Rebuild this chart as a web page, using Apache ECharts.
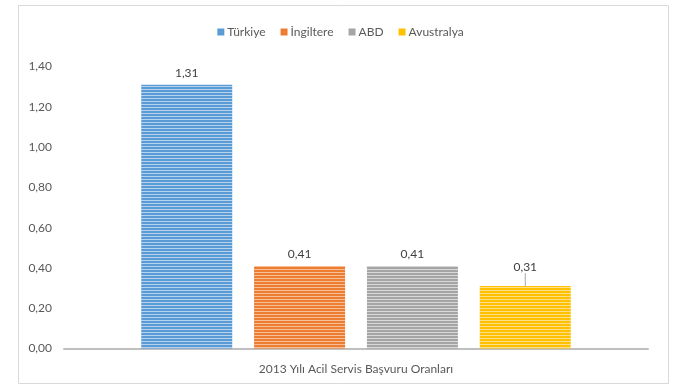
<!DOCTYPE html>
<html><head><meta charset="utf-8">
<script src="https://cdn.jsdelivr.net/npm/echarts@6/dist/echarts.min.js"></script>
<style>html,body{margin:0;padding:0;background:#fff}#c{width:681px;height:384px}</style>
</head><body><div id="c"></div>
<script>
const categories = ['2013 Yılı Acil Servis Başvuru Oranları'];
const seriesNames = ['Türkiye', 'İngiltere', 'ABD', 'Avustralya'];
const seriesValues = [[1.31], [0.41], [0.41], [0.31]];
const yTicks = { min: 0, max: 1.4, interval: 0.2 };

const baseColors = ['#5B9BD5', '#ED7D31', '#A5A5A5', '#FFC000'];
const stripeColors = ['#B4D1EE', '#F7BE98', '#D8D8D8', '#FFE08A'];
function stripe(base, light) {
  const cv = document.createElement('canvas');
  cv.width = 4; cv.height = 3;
  const g = cv.getContext('2d');
  g.fillStyle = base; g.fillRect(0, 0, 4, 3);
  g.fillStyle = light; g.fillRect(0, 2, 4, 1);
  return { image: cv, repeat: 'repeat' };
}
const font = 'Lato, "Open Sans", sans-serif';
const fmt = v => v.toFixed(2).replace('.', ',');

const chart = echarts.init(document.getElementById('c'), null, { renderer: 'canvas' });
chart.setOption({
  animation: false,
  textStyle: { fontFamily: font },
  graphic: [{ type: 'rect', shape: { x: 18.5, y: 5.5, width: 650, height: 378 }, style: { fill: 'none', stroke: '#D9D9D9', lineWidth: 1 }, silent: true }],
  legend: {
    top: 21, left: 'center', itemWidth: 7, itemHeight: 7, itemGap: 15,
    icon: 'rect',
    textStyle: { color: '#595959', fontSize: 12, fontFamily: font, padding: [0, 0, 0, -2] },
    data: seriesNames.map((n, i) => ({ name: n, itemStyle: { color: baseColors[i] } }))
  },
  grid: { left: 64, right: 33, top: 66.5, bottom: 35.5, containLabel: false },
  xAxis: {
    type: 'category', data: categories,
    axisLine: { lineStyle: { color: '#BFBFBF', width: 2 } },
    axisTick: { show: false },
    axisLabel: { color: '#595959', fontSize: 12, margin: 15, fontFamily: font }
  },
  yAxis: {
    type: 'value', min: yTicks.min, max: yTicks.max, interval: yTicks.interval,
    axisLine: { show: false }, axisTick: { show: false }, splitLine: { show: false },
    axisLabel: { color: '#595959', fontSize: 12, margin: 12, fontFamily: font, formatter: fmt }
  },
  series: seriesNames.map((n, i) => ({
    name: n, type: 'bar', data: seriesValues[i], barWidth: 91, barGap: '24%',
    itemStyle: { color: stripe(baseColors[i], stripeColors[i]) },
    label: { show: true, position: 'top', distance: 6, color: '#404040', fontSize: 12, fontFamily: font, formatter: p => fmt(p.value) },
    labelLayout: i === 3 ? { dy: -7 } : undefined,
    labelLine: i === 3 ? { show: true, length2: 0, lineStyle: { color: '#A6A6A6', width: 1 } } : undefined
  }))
});
</script></body></html>
